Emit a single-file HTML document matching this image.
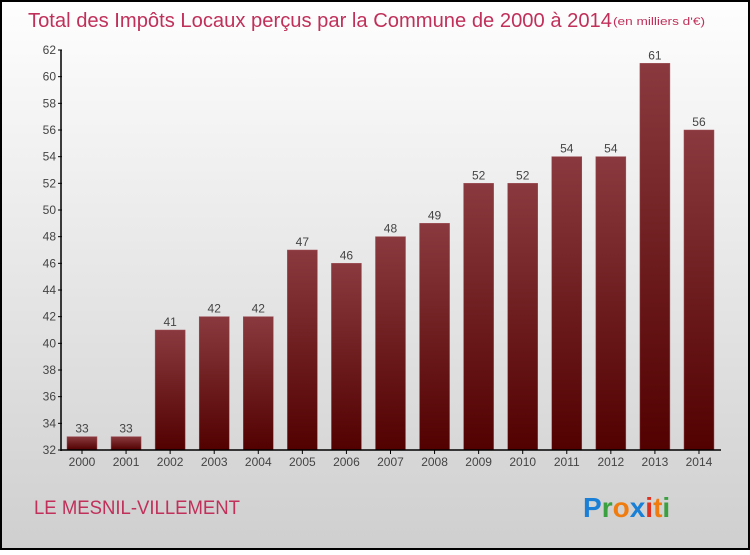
<!DOCTYPE html>
<html><head><meta charset="utf-8"><style>
body{margin:0;width:750px;height:550px;overflow:hidden;font-family:"Liberation Sans",sans-serif}
</style></head><body>
<svg id="c" width="750" height="550" xmlns="http://www.w3.org/2000/svg">
<defs>
<linearGradient id="bg" x1="0" y1="0" x2="0" y2="1"><stop offset="0" stop-color="#fefefe"/><stop offset="1" stop-color="#cfcfcf"/></linearGradient>
<linearGradient id="bar" x1="0" y1="0" x2="0" y2="1"><stop offset="0" stop-color="#8a3a3e"/><stop offset="1" stop-color="#520000"/></linearGradient>
</defs>
<rect x="1" y="1" width="748" height="548" fill="url(#bg)" stroke="#000" stroke-width="2"/>
<text x="28" y="27" font-size="20" fill="#c0305a" textLength="584" lengthAdjust="spacingAndGlyphs">Total des Impôts Locaux perçus par la Commune de 2000 à 2014</text>
<text x="613" y="25" font-size="11" fill="#c0305a" textLength="92" lengthAdjust="spacingAndGlyphs">(en milliers d'€)</text>
<g id="plot"></g>
<text x="34" y="514" font-size="19" fill="#c0305a" textLength="206" lengthAdjust="spacingAndGlyphs">LE MESNIL-VILLEMENT</text>
<g font-size="28" font-weight="bold">
<text x="583" y="517"><tspan fill="#1a7fd6">P</tspan><tspan fill="#3aa040">r</tspan><tspan fill="#f07c10">o</tspan><tspan fill="#1a7fd6">x</tspan><tspan fill="#e03020">i</tspan><tspan fill="#f07c10">t</tspan><tspan fill="#3aa040">i</tspan></text>
</g>
</svg>
<script>
const years=["2000","2001","2002","2003","2004","2005","2006","2007","2008","2009","2010","2011","2012","2013","2014"];
const values=[33,33,41,42,42,47,46,48,49,52,52,54,54,61,56];
const yTicks=[32,34,36,38,40,42,44,46,48,50,52,54,56,58,60,62];
const ns="http://www.w3.org/2000/svg";
const g=document.getElementById('plot');
const yMin=32,yMax=62,yB=450,yT=50;
const y=v=>yB-(v-yMin)*(yB-yT)/(yMax-yMin);
const x=i=>82+i*44.07;
function mk(t,a){const e=document.createElementNS(ns,t);for(const k in a)e.setAttribute(k,a[k]);g.appendChild(e);return e;}
yTicks.forEach(v=>{
 const l=mk('line',{x1:58,x2:62,y1:y(v),y2:y(v),stroke:'#000'});
 
 
 const t=mk('text',{x:56,y:y(v)+4,'font-size':12,fill:'#444','text-anchor':'end'});t.textContent=v;
 
 
});
values.forEach((v,i)=>{
 const r=mk('rect',{x:x(i)-15,y:y(v),width:30,height:yB-y(v),fill:'url(#bar)',stroke:'#a05058','stroke-width':0.5});
 
 
 const t=mk('text',{x:x(i),y:y(v)-4,'font-size':12,fill:'#444','text-anchor':'middle'});t.textContent=v;
 
 
 const k=mk('line',{x1:x(i),x2:x(i),y1:yB,y2:yB+4,stroke:'#000'});
 
 
 const xl=mk('text',{x:x(i),y:466,'font-size':12,fill:'#444','text-anchor':'middle'});xl.textContent=years[i];
 
 
});
const ya=mk('line',{x1:61,x2:61,y1:yT,y2:yB+1,stroke:'#000','stroke-width':1.5});


const xa=mk('line',{x1:61,x2:721,y1:yB,y2:yB,stroke:'#000','stroke-width':1.5});


</script>
</body></html>
